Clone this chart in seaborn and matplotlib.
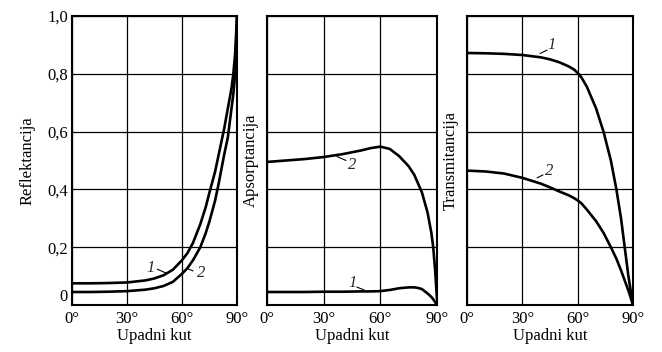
import numpy as np
import pandas as pd
import seaborn as sns
import matplotlib.pyplot as plt

# incidence angle grids and curves
refl_ang = [0, 10, 20, 30, 40, 45, 50, 55, 60, 63, 66, 70, 73, 75, 78, 80, 83, 85, 87, 88, 89, 90]
refl_1 = [0.075, 0.075, 0.076, 0.078, 0.085, 0.092, 0.103, 0.122, 0.155, 0.18, 0.215, 0.28, 0.34, 0.39, 0.46, 0.52, 0.61, 0.68, 0.75, 0.8, 0.87, 1.0]
refl_2 = [0.045, 0.045, 0.046, 0.048, 0.053, 0.058, 0.066, 0.08, 0.108, 0.128, 0.155, 0.2, 0.25, 0.29, 0.36, 0.42, 0.52, 0.58, 0.68, 0.73, 0.8, 1.0]

abs_ang = [0, 10, 20, 30, 40, 50, 55, 60, 65, 70, 75, 78, 80, 82, 85, 87, 88, 89, 90]
abs_1 = [0.045, 0.045, 0.045, 0.046, 0.046, 0.047, 0.047, 0.048, 0.052, 0.058, 0.061, 0.061, 0.059, 0.055, 0.04, 0.028, 0.02, 0.01, 0.0]
abs_2 = [0.495, 0.5, 0.505, 0.512, 0.522, 0.535, 0.543, 0.548, 0.54, 0.515, 0.48, 0.45, 0.42, 0.39, 0.32, 0.25, 0.2, 0.12, 0.02]

tr_ang = [0, 10, 20, 30, 40, 45, 50, 55, 58, 60, 62, 65, 70, 74, 78, 81, 83.5, 85.5, 87.5, 89, 90]
tr_1 = [0.872, 0.871, 0.869, 0.865, 0.857, 0.85, 0.84, 0.826, 0.815, 0.803, 0.788, 0.755, 0.68, 0.6, 0.5, 0.4, 0.3, 0.2, 0.1, 0.04, 0.0]
tr_2 = [0.465, 0.462, 0.455, 0.44, 0.42, 0.407, 0.393, 0.38, 0.37, 0.362, 0.352, 0.33, 0.29, 0.25, 0.2, 0.16, 0.12, 0.085, 0.05, 0.02, 0.0]

x_ticks = [0, 30, 60, 90]
x_labels = ['0°', '30°', '60°', '90°']
y_ticks = [0, 0.2, 0.4, 0.6, 0.8, 1.0]
y_labels = ['0', '0,2', '0,4', '0,6', '0,8', '1,0']

sns.set_theme(style='white')
plt.rcParams['font.family'] = ['Liberation Serif', 'DejaVu Serif']

fig = plt.figure(figsize=(6.62, 3.52), dpi=100)
W, H = 662, 352
boxes = [(72, 237), (267, 437), (467, 633)]
top, bot = 16, 305

panels = [
    ('Reflektancija', refl_ang, refl_1, refl_2,
     [((43, 0.128), (46.5, 0.124), (51.5, 0.11), '1'), ((70.5, 0.11), (66, 0.118), (63, 0.126), '2')]),
    ('Apsorptancija', abs_ang, abs_1, abs_2,
     [((45.5, 0.076), (47.6, 0.062), (51.4, 0.052), '1'), ((45, 0.484), (41.8, 0.5), (37, 0.514), '2')]),
    ('Transmitancija', tr_ang, tr_1, tr_2,
     [((46, 0.9), (43.4, 0.882), (39.6, 0.87), '1'), ((44.5, 0.464), (41.2, 0.45), (38, 0.44), '2')]),
]

for i, (ylab, ang, c1, c2, marks) in enumerate(panels):
    l, r = boxes[i]
    ax = fig.add_axes([l / W, (H - bot) / H, (r - l) / W, (bot - top) / H])
    df = pd.DataFrame({'kut': ang * 2, 'val': c1 + c2,
                       'krivulja': ['1'] * len(ang) + ['2'] * len(ang)})
    sns.lineplot(data=df, x='kut', y='val', units='krivulja', estimator=None,
                 color='black', lw=1.9, ax=ax, legend=False)
    ax.set_xlim(0, 90)
    ax.set_ylim(0, 1)
    ax.set_xticks(x_ticks)
    ax.set_xticklabels(x_labels)
    ax.set_yticks(y_ticks)
    if i == 0:
        ax.set_yticklabels(y_labels)
        # "0" sits just above the baseline so it clears "0°"
        ax.get_yticklabels()[0].set_verticalalignment('bottom')
    else:
        ax.set_yticklabels([])
    ax.tick_params(axis='x', length=0, labelsize=12, colors='black', pad=4)
    ax.tick_params(axis='y', length=0, labelsize=12, colors='black', pad=3)
    ax.grid(True, color='black', lw=0.9)
    ax.set_axisbelow(True)
    for s in ax.spines.values():
        s.set_color('black')
        s.set_linewidth(1.5)
    ax.set_xlabel('Upadni kut', fontsize=12, color='black', labelpad=1)
    ax.set_ylabel(ylab, fontsize=12, color='black', labelpad=8 if i == 0 else 3)
    for (tx, ty), (ax0, ay0), (ax1, ay1), txt in marks:
        ax.text(tx, ty, txt, fontsize=12, style='italic', ha='center', va='center')
        ax.plot([ax0, ax1], [ay0, ay1], color='black', lw=0.8)

fig.savefig('out.png', dpi=100, facecolor='white')
